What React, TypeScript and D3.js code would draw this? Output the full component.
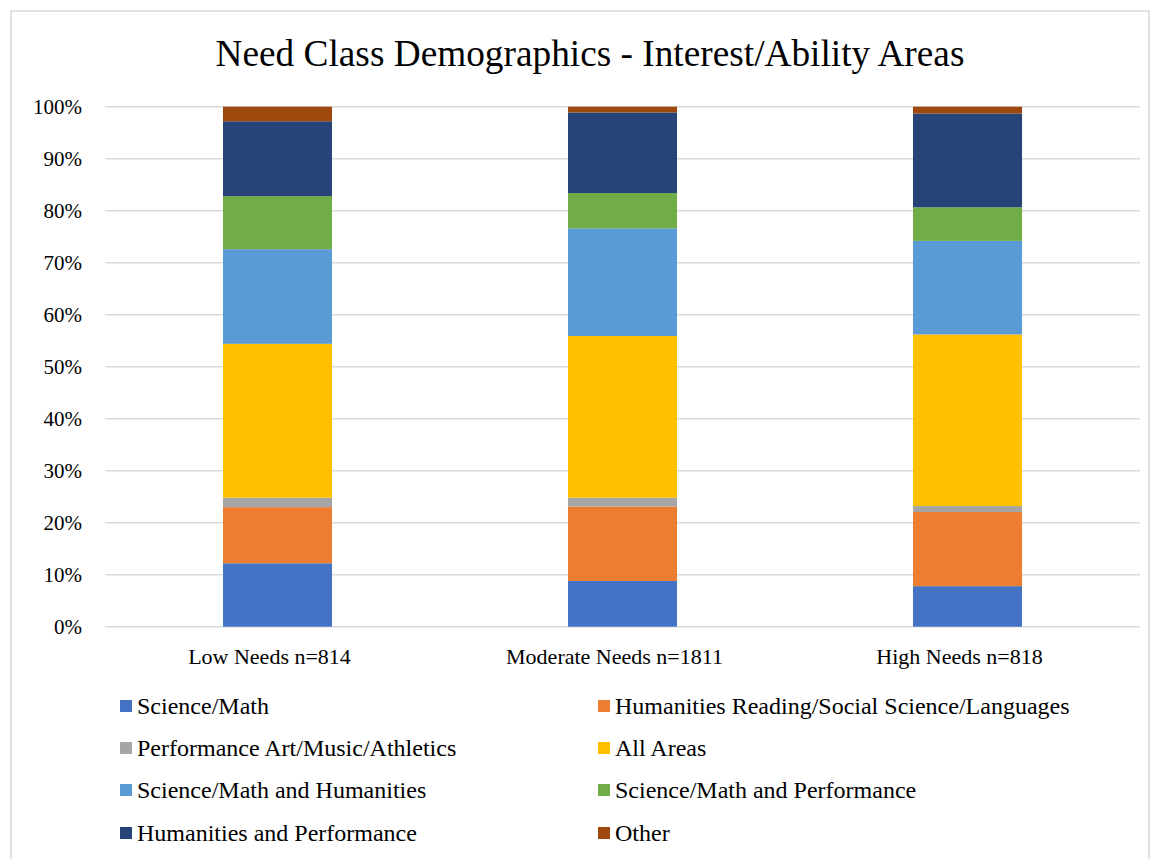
import React from "react";
import * as d3 from "d3";

const categories = ["Low Needs n=814", "Moderate Needs n=1811", "High Needs n=818"];
const seriesNames = [
  "Science/Math",
  "Humanities Reading/Social Science/Languages",
  "Performance Art/Music/Athletics",
  "All Areas",
  "Science/Math and Humanities",
  "Science/Math and Performance",
  "Humanities and Performance",
  "Other",
];
const scienceMath = [12.2, 8.8, 7.8];
const humanities = [10.8, 14.3, 14.25];
const performance = [1.8, 1.7, 1.15];
const allAreas = [29.6, 31.1, 33.0];
const smHumanities = [18.2, 20.7, 18.0];
const smPerformance = [10.2, 6.8, 6.45];
const humPerformance = [14.4, 15.5, 18.05];
const other = [2.8, 1.1, 1.3];
const colors = ["#4472C4", "#ED7D31", "#A5A5A5", "#FFC000", "#5B9BD5", "#70AD47", "#264478", "#9E480E"];
const yTicks = [0, 10, 20, 30, 40, 50, 60, 70, 80, 90, 100];

const FONT = "Liberation Serif";

export default function App() {
  const W = 1154, H = 859;
  const left = 105, right = 1140, top = 106.7, bottom = 626.7;
  const seriesValues = [scienceMath, humanities, performance, allAreas, smHumanities, smPerformance, humPerformance, other];
  const rows = categories.map((c, i) => {
    const r: any = { cat: c };
    seriesNames.forEach((s, j) => (r[s] = seriesValues[j][i]));
    return r;
  });
  const stacked = d3.stack().keys(seriesNames)(rows);
  const x = d3.scaleBand().domain(categories).range([left, right]).paddingInner(0.684).paddingOuter(0.342);
  const y = d3.scaleLinear().domain([0, 100]).range([bottom, top]);

  const legendCols = [120, 598];
  const legendRows = [706, 748, 790, 833];

  return (
    <svg width={W} height={H} style={{ position: "absolute", left: 0, top: 0 }}>
      <rect x={0} y={0} width={W} height={H} fill="#fff" />
      <rect x={11} y={11} width={1138} height={870} fill="none" stroke="#d9d9d9" strokeWidth={1.5} />
      <text x={590} y={66} textAnchor="middle" fontFamily={FONT} fontSize={37.3} fill="#000">
        Need Class Demographics - Interest/Ability Areas
      </text>
      {yTicks.map((t) => (
        <g key={t}>
          <line x1={left} x2={right} y1={y(t)} y2={y(t)} stroke="#d9d9d9" strokeWidth={1.5} />
          <text x={82} y={y(t) + 7} textAnchor="end" fontFamily={FONT} fontSize={21} fill="#000">
            {t}%
          </text>
        </g>
      ))}
      {stacked.map((s, j) => (
        <g key={s.key} fill={colors[j]}>
          {s.map((d, i) => (
            <rect
              key={i}
              x={x(categories[i])}
              width={x.bandwidth()}
              y={y(d[1])}
              height={y(d[0]) - y(d[1])}
            />
          ))}
        </g>
      ))}
      {categories.map((c) => (
        <text key={c} x={(x(c) as number) + x.bandwidth() / 2 - 8} y={664} textAnchor="middle" fontFamily={FONT} fontSize={22} fill="#000">
          {c}
        </text>
      ))}
      {seriesNames.map((s, j) => {
        const cx = legendCols[j % 2];
        const cy = legendRows[Math.floor(j / 2)];
        return (
          <g key={s}>
            <rect x={cx} y={cy - 6} width={12} height={12} fill={colors[j]} />
            <text x={cx + 17} y={cy + 8} fontFamily={FONT} fontSize={24} fill="#000">
              {s}
            </text>
          </g>
        );
      })}
    </svg>
  );
}
